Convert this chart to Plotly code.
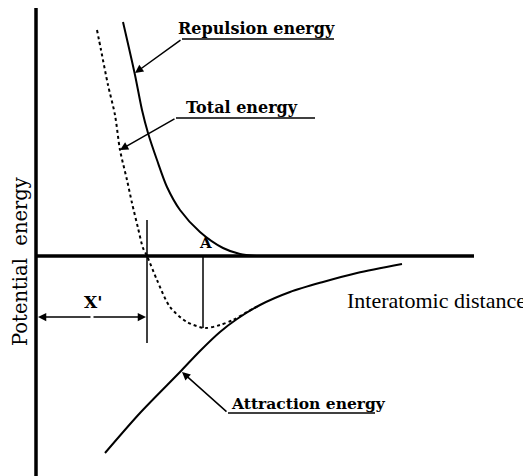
import plotly.graph_objects as go

# Schematic coordinates: distance (x) and potential energy (y), origin at axes crossing
rep_d = [87, 99, 106, 112, 121, 131, 144, 164, 187, 204, 220]
rep_e = [234, 181, 146, 123, 96, 69, 46, 24, 8, 2, 0]

tot_d = [61, 65, 72, 79, 84, 91, 96, 102, 107, 111, 121, 134, 151, 169, 184, 197, 211, 224]
tot_e = [226, 206, 171, 141, 106, 76, 53, 28, 8, 0, -24, -51, -66, -72, -69, -64, -56, -49]

att_d = [69, 104, 144, 164, 184, 201, 224, 254, 287, 321, 366]
att_e = [-197, -157, -116, -95, -76, -63, -49, -36, -26, -17, -8]

axis_v_d = [0, 0]
axis_v_e = [251, -220]
axis_h_d = [0, 438]
axis_h_e = [0, 0]

x0_line_d = [111, 111]
x0_line_e = [36, -87]
min_line_d = [167, 167]
min_line_e = [0, -72]

labels = {
    "rep": "Repulsion energy",
    "tot": "Total energy",
    "att": "Attraction energy",
    "xlab": "Interatomic distance",
    "ylab": "Potential  energy",
    "xp": "X'",
    "a": "A",
}

fig = go.Figure()
K = "black"
fig.add_trace(go.Scatter(x=axis_v_d, y=axis_v_e, mode="lines", line=dict(color=K, width=3.5)))
fig.add_trace(go.Scatter(x=axis_h_d, y=axis_h_e, mode="lines", line=dict(color=K, width=3.5)))
fig.add_trace(go.Scatter(x=rep_d, y=rep_e, mode="lines", line=dict(color=K, width=2, shape="spline", smoothing=0.8)))
fig.add_trace(go.Scatter(x=att_d, y=att_e, mode="lines", line=dict(color=K, width=2, shape="spline", smoothing=0.8)))
fig.add_trace(go.Scatter(x=tot_d, y=tot_e, mode="lines", line=dict(color=K, width=2, dash="dot", shape="spline", smoothing=0.8)))
fig.add_trace(go.Scatter(x=x0_line_d, y=x0_line_e, mode="lines", line=dict(color=K, width=1.5)))
fig.add_trace(go.Scatter(x=min_line_d, y=min_line_e, mode="lines", line=dict(color=K, width=1.5)))

# underlines for the call-out labels
for xs, y in [([146, 298], 217), ([140, 279], 138), ([192, 339], -157)]:
    fig.add_trace(go.Scatter(x=xs, y=[y, y], mode="lines", line=dict(color=K, width=1.5)))

def arrow(xt, yt, xs, ys):
    fig.add_annotation(x=xt, y=yt, ax=xs, ay=ys, xref="x", yref="y", axref="x", ayref="y",
                       text="", showarrow=True, arrowhead=2, arrowsize=1.1, arrowwidth=1.5,
                       arrowcolor=K)

arrow(99, 183, 146, 217)
arrow(84, 106, 140, 138)
arrow(146, -116, 192, -157)
arrow(2, -61, 56, -61)
arrow(110, -61, 56, -61)

serif = "DejaVu Serif"
def label(x, y, t, size, fam=serif, angle=0):
    fig.add_annotation(x=x, y=y, xref="x", yref="y", text=t, showarrow=False,
                       textangle=angle, font=dict(family=fam, size=size, color=K))

label(220, 228, "<b>" + labels["rep"] + "</b>", 16)
label(206, 149, "<b>" + labels["tot"] + "</b>", 16)
label(272, -147, "<b>" + labels["att"] + "</b>", 15.5)
label(400, -44, labels["xlab"], 22, fam="Liberation Serif")
label(-16, -6, labels["ylab"], 19.5, fam="DejaVu Serif", angle=-90)
label(57, -46, "<b>" + labels["xp"] + "</b>", 17, fam="DejaVu Serif")
label(169, 13, "<b>" + labels["a"] + "</b>", 15, fam="DejaVu Serif")

# page body has an 8px margin: the figure is sized and ranged so that
# the drawing lands where the reference has it
fig.update_layout(
    width=523, height=468, margin=dict(l=0, r=0, t=0, b=0),
    plot_bgcolor="white", paper_bgcolor="white", showlegend=False,
    xaxis=dict(range=[-28, 495], visible=False, fixedrange=True),
    yaxis=dict(range=[-220, 248], visible=False, fixedrange=True),
)
fig.write_html("out.html")
